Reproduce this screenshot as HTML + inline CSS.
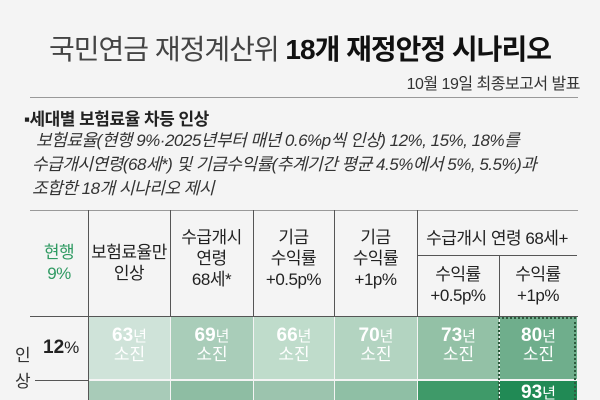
<!DOCTYPE html>
<html style="width:600px;height:400px;overflow:hidden"><head><meta charset="utf-8"><style>
body{margin:0;width:600px;height:400px;overflow:hidden;background:#f4f4f4;font-family:"Liberation Sans","Noto Sans CJK KR",sans-serif;position:relative;color:#222}
.a{position:absolute;white-space:nowrap}
.hl{position:absolute;height:1px;background:#777}
.vl{position:absolute;width:1px;background:#555}
.h{position:absolute;text-align:center;font-size:17px;line-height:21px;color:#222;letter-spacing:-0.5px}
.cell{position:absolute;color:#fff;text-align:center;font-weight:normal}
.cell b{font-size:19px;font-weight:bold}
.cell span{font-size:15px}
.cell i{font-style:normal;font-size:17px;display:block;line-height:19px;margin-top:0px}
</style></head><body>
<div class="a" style="left:0;width:600px;text-align:center;top:28px;font-size:28px;color:#444;letter-spacing:-1px">국민연금 재정계산위 <b style="color:#111">18개 재정안정 시나리오</b></div>
<div class="a" style="right:20px;top:70px;font-size:16px;color:#333;letter-spacing:-0.5px">10월 19일 최종보고서 발표</div>
<div class="hl" style="left:30px;width:548px;top:97px;background:#999"></div>
<div class="a" style="left:24px;top:105px;font-size:17px;font-weight:bold;letter-spacing:-0.5px">▪세대별 보험료율 차등 인상</div>
<div class="a" style="left:36px;top:129px;font-size:17px;line-height:24px;font-style:italic;color:#333;letter-spacing:-0.5px">보험료율(현행 9%·2025년부터 매년 0.6%p씩 인상) 12%, 15%, 18%를<br><span style="margin-left:-4px">수급개시연령(68세*) 및 기금수익률(추계기간 평균 4.5%에서 5%, 5.5%)과</span><br><span style="margin-left:-4px">조합한 18개 시나리오 제시</span></div>
<div class="hl" style="left:30px;width:548px;top:210px;background:#999"></div>
<div id="cells"></div>
<div class="hl" style="left:30px;width:548px;top:316px;background:#555"></div>
<div class="hl" style="left:417px;width:160px;top:255px;background:#555"></div>
<div class="hl" style="left:35px;width:53px;top:380px;background:#555"></div>
<div class="vl" style="left:88px;top:210px;height:190px"></div>
<div class="vl" style="left:170px;top:210px;height:106px"></div>
<div class="vl" style="left:253px;top:210px;height:106px"></div>
<div class="vl" style="left:334px;top:210px;height:106px"></div>
<div class="vl" style="left:417px;top:210px;height:106px"></div>
<div class="vl" style="left:499px;top:255px;height:61px"></div>
<div class="h" style="left:30px;width:58px;top:242px;color:#2f9a62">현행<br>9%</div>
<div class="h" style="left:88px;width:82px;top:242px">보험료율만<br>인상</div>
<div class="h" style="left:170px;width:83px;top:227px">수급개시<br>연령<br>68세*</div>
<div class="h" style="left:253px;width:81px;top:227px">기금<br>수익률<br>+0.5p%</div>
<div class="h" style="left:334px;width:83px;top:227px">기금<br>수익률<br>+1p%</div>
<div class="h" style="left:417px;width:160px;top:228px">수급개시 연령 68세+</div>
<div class="h" style="left:417px;width:82px;top:264px">수익률<br>+0.5p%</div>
<div class="h" style="left:499px;width:78px;top:264px">수익률<br>+1p%</div>
<div class="a" style="left:43px;top:337px;font-size:19px;font-weight:bold">12<span style="font-weight:normal;font-size:17px">%</span></div>
<div class="a" style="left:15px;top:343px;font-size:17px;line-height:26px;color:#333">인<br>상</div>
<div class="a" style="left:498px;top:317px;width:78px;height:83px;border:2px dotted #2d5a3d;border-bottom:none;box-sizing:border-box"></div>
<script>
const years12=[63,69,66,70,73,80];
const years15=[null,null,null,null,null,93];
const colors12=['#cfe3d9','#a9cdb9','#bfdccb','#b3d4c1','#93c1a6','#6fae8c'];
const colors15=['#a8cbb8','#8ebda3','#9cc4ae','#8fbfa5','#3f9a69','#218a55'];
const colX=[88,170,253,334,417,499,577];
const c=document.getElementById('cells');
function mk(vals,cols,top,h,row,pad,full){
vals.forEach((v,i)=>{
const d=document.createElement('div');


d.className='cell';
d.style.left=(colX[i]+1)+'px';d.style.width=(colX[i+1]-colX[i]-1)+'px';
d.style.top=top+'px';d.style.height=h+'px';d.style.background=cols[i];
d.style.paddingTop=pad+'px';d.style.boxSizing='border-box';d.style.overflow='hidden';
d.style.lineHeight='16px';
if(v!==null)d.innerHTML='<b>'+v+'</b><span>년</span>'+(full?'<i>소진</i>':'');
c.appendChild(d);});
}
mk(years12,colors12,317,62,'12',11,true);
mk(years15,colors15,381,19,'15',4,false);
</script>
</body></html>
